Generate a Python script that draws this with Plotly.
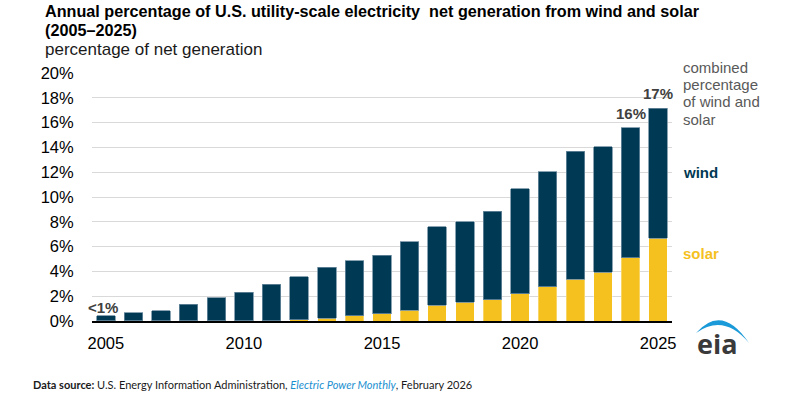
import plotly.graph_objects as go

years = list(range(2005, 2026))
solar = [0.01, 0.01, 0.01, 0.02, 0.02, 0.03, 0.04, 0.10, 0.21, 0.43, 0.60,
         0.85, 1.28, 1.50, 1.73, 2.20, 2.78, 3.38, 3.92, 5.09, 6.68]
wind = [0.43, 0.66, 0.82, 1.35, 1.86, 2.28, 2.93, 3.47, 4.14, 4.43, 4.69,
        5.55, 6.34, 6.52, 7.14, 8.45, 9.24, 10.29, 10.13, 10.50, 10.47]
tick_years = [2005, 2010, 2015, 2020, 2025]
y_ticks = [0, 2, 4, 6, 8, 10, 12, 14, 16, 18, 20]
labeled = {2005: "<1%", 2024: "16%", 2025: "17%"}
combined_lines = ["combined", "percentage", "of wind and", "solar"]

NAVY = "#003953"
YELLOW = "#f5c11f"
FONT = "Liberation Sans, Arial, sans-serif"

W, H = 791, 405
L, R, T, B = 92, 119, 73, 84
PW, PH = W - L - R, H - T - B


def px(x):
    return (x - L) / PW


def py(y):
    return (H - B - y) / PH


fig = go.Figure()
fig.add_trace(go.Bar(x=years, y=solar, name="solar", marker_color=YELLOW,
                     marker_line=dict(color="rgba(255,255,255,0.4)", width=0.8),
                     width=0.67, hoverinfo="x+y"))
fig.add_trace(go.Bar(x=years, y=wind, name="wind", marker_color=NAVY,
                     marker_line=dict(color="#6d8ca0", width=0.8),
                     width=0.67, hoverinfo="x+y"))

annotations = []
totals = [s + w for s, w in zip(solar, wind)]
for yr, txt in labeled.items():
    i = years.index(yr)
    annotations.append(dict(x=yr, y=totals[i], xref="x", yref="y", text="<b>%s</b>" % txt,
                            showarrow=False, yanchor="bottom",
                            yshift=-2 if yr == 2005 else 4,
                            xshift=-3 if yr == 2005 else 0,
                            font=dict(family=FONT, size=15, color="#404040")))

# titles
annotations.append(dict(xref="paper", yref="paper", x=px(43), y=py(11), xanchor="left", yanchor="middle",
                        text="<b>Annual percentage of U.S. utility-scale electricity  net generation from wind and solar</b>",
                        showarrow=False, font=dict(family=FONT, size=16.2, color="#000000")))
annotations.append(dict(xref="paper", yref="paper", x=px(43), y=py(30), xanchor="left", yanchor="middle",
                        text="<b>(2005\u20132025)</b>",
                        showarrow=False, font=dict(family=FONT, size=16.2, color="#000000")))
annotations.append(dict(xref="paper", yref="paper", x=px(43), y=py(50), xanchor="left", yanchor="middle",
                        text="percentage of net generation", showarrow=False,
                        font=dict(family=FONT, size=17, color="#1a1a1a")))
# right labels
for k, line in enumerate(combined_lines):
    annotations.append(dict(xref="paper", yref="paper", x=px(681), y=py(67 + 17.4 * k),
                            xanchor="left", yanchor="middle", text=line,
                            showarrow=False, font=dict(family=FONT, size=15, color="#595959")))
annotations.append(dict(xref="paper", yref="paper", x=px(681), y=py(172), xanchor="left", yanchor="middle",
                        text="<b>wind</b>", showarrow=False,
                        font=dict(family=FONT, size=15, color=NAVY)))
annotations.append(dict(xref="paper", yref="paper", x=px(681), y=py(253), xanchor="left", yanchor="middle",
                        text="<b>solar</b>", showarrow=False,
                        font=dict(family=FONT, size=15, color=YELLOW)))
# footer
annotations.append(dict(xref="paper", yref="paper", x=px(31), y=py(384), xanchor="left", yanchor="middle",
                        text="<b>Data source:</b> U.S. Energy Information Administration, "
                             "<i><span style='color:#1a8fd0'>Electric Power Monthly</span></i>, February 2026",
                        showarrow=False, font=dict(family="Lato, sans-serif", size=11, color="#1a1a1a")))
# logo text
annotations.append(dict(xref="paper", yref="paper", x=px(717), y=py(343), xanchor="center", yanchor="middle",
                        text="<b>eia</b>", showarrow=False,
                        font=dict(family="Open Sans, sans-serif", size=27, color="#3a3a3a")))

pts = [(696, 333), (722, 303), (749, 343), (724, 313)]
P = [(px(a), py(b)) for a, b in pts]
path = "M %f,%f Q %f,%f %f,%f Q %f,%f %f,%f Z" % (P[0][0], P[0][1], P[1][0], P[1][1], P[2][0], P[2][1],
                                                   P[3][0], P[3][1], P[0][0], P[0][1])
shapes = [dict(type="path", xref="paper", yref="paper", path=path,
               fillcolor="#1a9ad8", line=dict(width=0))]

fig.update_layout(
    width=W, height=H, autosize=False,
    margin=dict(l=L, r=R, t=T, b=B, pad=0),
    barmode="stack", showlegend=False,
    plot_bgcolor="white", paper_bgcolor="white",
    annotations=annotations, shapes=shapes,
    xaxis=dict(range=[2004.5, 2025.5], tickvals=tick_years, ticktext=[str(t) for t in tick_years],
               showgrid=False, showline=True, linecolor="#000000", linewidth=1.5,
               ticks="outside", ticklen=6, tickcolor="rgba(0,0,0,0)",
               tickfont=dict(family=FONT, size=16.5, color="#000000"), fixedrange=True),
    yaxis=dict(range=[0, 20], tickvals=y_ticks, ticktext=["%d%%" % v for v in y_ticks],
               showgrid=True, gridcolor="#d9d9d9", gridwidth=1.2, zeroline=False,
               ticks="outside", ticklen=14, tickcolor="rgba(0,0,0,0)",
               tickfont=dict(family=FONT, size=16.5, color="#000000"), fixedrange=True),
    font=dict(family=FONT),
)

fig.write_html("out.html", config={"displayModeBar": False},
               post_script="document.body.style.margin='0';document.body.style.overflow='hidden';")
